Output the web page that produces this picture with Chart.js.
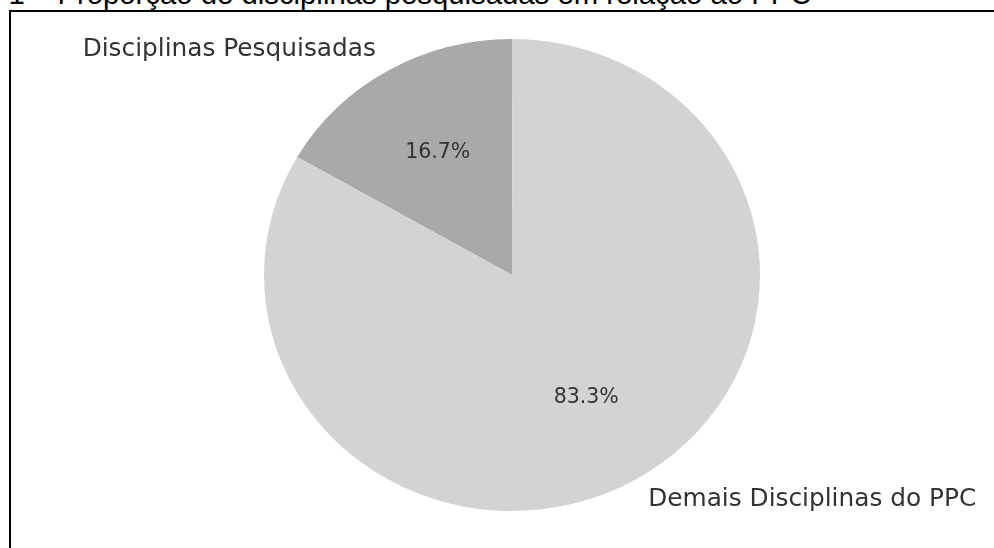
<!DOCTYPE html>
<html>
<head>
<meta charset="utf-8">
<script src="https://cdn.jsdelivr.net/npm/chart.js@4"></script>
<style>
  html, body { margin: 0; padding: 0; background: #fff; overflow: hidden; }
  #wrap { position: relative; width: 994px; height: 548px; overflow: hidden; }
  #titulo {
    position: absolute; left: -94px; top: -23px; white-space: nowrap;
    font-family: "Liberation Sans", Arial, sans-serif; font-size: 29.3px; color: #000;
  }
  #moldura {
    position: absolute; left: 9px; top: 10px; width: 990px; height: 545px;
    border-left: 2px solid #000; border-top: 2px solid #000;
  }
  #grafico { position: absolute; left: 0; top: 0; }
</style>
</head>
<body>
<div id="wrap">
  <div id="moldura"></div>
  <div id="titulo">Gráfico 1 – Proporção de disciplinas pesquisadas em relação ao PPC</div>
  <canvas id="grafico" width="994" height="548"></canvas>
</div>
<script>
// Dados do gráfico
const categorias = ['Disciplinas Pesquisadas', 'Demais Disciplinas do PPC'];
const valores = [16.7, 83.3];
const cores = ['#a9a9a9', '#d3d3d3'];

const raioX = 248, raioY = 236; // pizza levemente achatada como no original

// Estica a pizza na horizontal
const esticar = {
  id: 'esticar',
  beforeDatasetsDraw(chart) {
    const arco = chart.getDatasetMeta(0).data[0];
    const ctx = chart.ctx;
    ctx.save();
    ctx.translate(arco.x, arco.y);
    ctx.scale(raioX / raioY, 1);
    ctx.translate(-arco.x, -arco.y);
  },
  afterDatasetsDraw(chart) {
    chart.ctx.restore();
  }
};

// Rótulos e porcentagens no estilo do matplotlib
const rotulos = {
  id: 'rotulos',
  afterDraw(chart) {
    const ctx = chart.ctx;
    const total = valores.reduce((a, b) => a + b, 0);
    ctx.save();
    ctx.fillStyle = '#333333';
    ctx.textBaseline = 'middle';
    chart.getDatasetMeta(0).data.forEach((arco, i) => {
      const meio = (arco.startAngle + arco.endAngle) / 2;
      const c = Math.cos(meio), s = Math.sin(meio);
      // nome da categoria
      ctx.font = '24.8px "DejaVu Sans"';
      ctx.textAlign = c < 0 ? 'right' : 'left';
      ctx.fillText(categorias[i], arco.x + 1.1 * raioX * c, arco.y + 1.1 * raioY * s);
      // porcentagem
      ctx.font = '20.5px "DejaVu Sans"';
      ctx.textAlign = 'center';
      const pct = (valores[i] / total * 100).toFixed(1) + '%';
      ctx.fillText(pct, arco.x + 0.6 * raioX * c, arco.y + 0.6 * raioY * s);
    });
    ctx.restore();
  }
};

new Chart(document.getElementById('grafico'), {
  type: 'pie',
  data: {
    labels: categorias,
    datasets: [{
      data: valores,
      backgroundColor: cores,
      borderWidth: 0
    }]
  },
  options: {
    responsive: false,
    animation: false,
    rotation: -60,
    radius: raioY,
    layout: { padding: { left: 30, top: 2 } },
    plugins: {
      legend: { display: false },
      tooltip: { enabled: false }
    }
  },
  plugins: [esticar, rotulos]
});
</script>
</body>
</html>
